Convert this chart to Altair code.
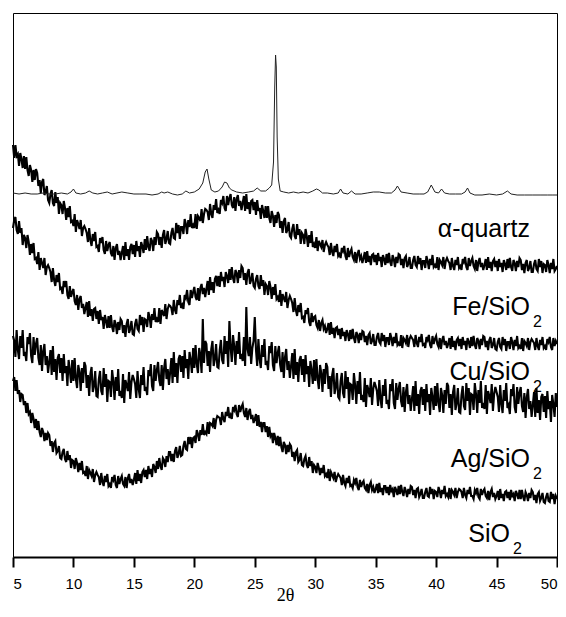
import altair as alt
import pandas as pd

# ---------------- data ----------------
# noisy patterns sampled every 0.1 deg from 5.0 to 50.0 (one row = 1 deg)
X_START = 5.0
X_STEP = 0.1

FE_SIO2 = [
412,399,412,401,403,391,404,398,389,401,
388,400,387,381,392,387,375,387,377,388,
384,371,377,364,375,378,362,365,371,357,
354,363,367,354,351,365,354,360,343,354,
352,343,356,349,337,349,340,351,335,336,
331,343,325,337,333,328,337,321,329,331,
328,324,315,329,317,311,323,316,325,310,
311,305,319,314,320,307,303,316,306,312,
315,304,301,311,297,309,313,302,306,297,
304,311,297,315,301,308,297,310,313,303,
312,300,316,306,311,300,315,311,304,318,
307,321,310,306,319,316,306,320,312,325,
323,312,320,309,322,327,313,318,326,314,
313,324,329,319,318,334,324,332,318,330,
330,323,338,333,323,337,330,343,329,332,
329,343,328,341,339,336,348,334,343,348,
347,345,337,353,343,339,352,347,358,344,
347,343,357,354,361,349,346,361,352,359,
363,352,349,360,346,358,362,351,356,347,
354,361,346,363,348,355,343,356,357,347,
355,342,357,346,349,338,352,346,339,351,
339,351,339,334,346,341,330,342,334,345,
342,329,336,324,336,339,324,327,335,321,
319,328,333,321,318,333,322,328,313,324,
322,313,328,321,310,322,314,326,310,313,
309,320,306,316,313,310,317,305,312,315,
312,310,302,314,305,301,311,305,313,301,
303,299,309,306,311,301,297,309,300,305,
308,300,297,305,294,303,307,298,301,294,
299,305,294,306,295,301,292,302,303,295,
302,292,304,296,300,290,302,298,292,303,
294,304,295,291,302,298,290,300,294,303,
302,292,298,289,299,301,290,293,300,289,
289,297,301,292,290,301,293,299,287,296,
296,289,301,296,288,298,292,302,290,292,
289,300,287,297,295,292,300,288,296,299,
296,294,287,299,291,287,297,292,300,289,
291,287,298,295,300,290,287,299,291,296,
299,291,288,297,286,295,299,290,294,287,
292,298,287,300,289,295,286,296,298,290,
296,286,298,290,294,285,297,293,287,298,
289,299,290,286,297,294,286,296,290,299,
297,287,293,284,294,297,286,289,296,285,
285,293,297,288,286,298,290,296,284,293,
292,285,297,292,284,294,288,298,286,288,
291]

CU_SIO2 = [
329,337,340,327,323,336,324,329,312,322,
319,309,322,315,302,313,304,314,298,299,
293,305,287,299,294,289,299,282,290,292,
289,285,275,289,277,271,282,275,284,268,
269,263,276,270,276,262,258,271,260,265,
268,256,252,262,247,258,261,249,253,243,
249,255,240,256,241,248,236,248,249,238,
246,233,247,237,240,228,242,236,229,241,
229,242,230,225,237,233,223,235,227,238,
236,224,232,220,233,238,224,228,236,223,
222,233,238,228,226,242,232,240,225,238,
237,230,245,240,229,243,237,249,235,238,
235,249,233,247,244,241,253,238,248,252,
251,249,242,257,247,243,257,252,262,249,
252,248,262,259,267,255,252,267,259,265,
270,260,257,269,256,269,273,263,269,260,
268,276,262,280,267,275,264,278,281,271,
281,270,285,276,280,270,285,281,274,288,
277,290,279,274,287,284,274,287,279,291,
289,277,284,272,284,288,273,277,284,271,
269,278,282,271,268,282,271,277,262,273,
271,262,276,270,258,270,262,273,258,260,
255,267,251,263,259,255,265,249,257,261,
258,254,245,259,247,241,252,245,254,239,
240,234,247,243,249,235,231,244,235,240,
241,232,229,237,226,234,237,228,231,224,
228,234,222,235,223,229,219,229,230,222,
228,218,229,221,225,216,227,223,216,227,
218,228,219,214,225,222,214,224,217,226,
225,215,221,212,222,224,213,216,223,212,
212,220,224,215,213,224,216,222,210,219,
219,212,224,219,211,220,214,224,212,214,
211,222,209,219,217,214,222,210,218,221,
219,217,210,222,214,210,220,215,223,212,
213,209,220,217,222,212,209,221,213,218,
221,213,210,219,208,217,221,212,216,209,
213,219,208,221,210,216,207,217,219,211,
218,208,220,212,216,207,219,215,209,220,
211,221,212,208,219,216,208,218,212,221,
220,210,216,207,217,220,209,212,219,208,
207,215,219,210,208,220,212,218,206,215,
215,208,220,215,207,217,211,221,209,211,
208,219,206,216,214,211,219,207,215,218,
216,214,207,219,211,207,217,212,220,209,
211,207,218,215,220,210,207,219,211,216,
213]

AG_SIO2 = [
221,216,200,227,207,198,221,209,227,201,
205,196,220,213,224,201,194,220,202,213,
219,199,192,212,186,206,213,192,201,184,
195,207,182,211,185,198,177,199,203,184,
199,176,203,184,191,171,197,187,174,197,
176,199,178,169,192,185,166,189,174,195,
191,169,182,161,183,190,165,171,186,161,
160,178,186,166,162,189,170,183,155,176,
175,160,187,176,157,180,166,188,161,166,
159,183,154,177,172,166,185,158,175,182,
178,173,159,186,168,159,182,172,190,166,
170,162,187,181,193,171,166,192,176,187,
195,177,171,192,167,189,198,178,188,172,
185,199,174,205,180,194,174,198,202,185,
201,179,207,189,198,178,205,197,184,209,
189,212,193,184,209,202,184,238,194,216,
213,191,206,185,208,216,191,198,213,190,
189,207,217,197,193,221,203,216,190,236,
210,195,222,211,192,216,203,225,198,203,
196,220,191,250,208,201,220,193,209,216,
240,207,191,218,198,189,212,200,218,192,
196,187,211,204,215,192,186,211,194,204,
211,192,185,205,179,200,208,187,196,179,
191,204,178,208,182,195,175,197,201,182,
198,175,202,183,191,170,196,187,173,197,
176,198,178,168,192,184,165,188,173,194,
190,168,181,160,182,189,163,170,184,160,
158,176,184,164,159,186,168,180,153,173,
172,157,184,172,153,176,163,185,157,162,
155,179,150,172,167,160,179,152,168,175,
171,166,151,177,158,149,172,161,178,153,
157,148,173,166,178,154,148,174,157,168,
175,156,150,170,145,165,173,153,162,146,
158,171,146,176,151,163,143,166,170,152,
168,146,173,155,163,142,169,160,147,171,
151,174,154,145,169,162,144,167,153,174,
171,149,163,142,165,172,147,154,169,145,
144,162,171,151,147,174,156,169,142,163,
162,147,174,163,144,167,154,176,149,154,
148,172,143,166,161,154,173,146,163,170,
165,160,145,172,153,144,167,156,174,149,
152,143,168,161,173,150,144,170,153,164,
170,151,145,164,139,160,168,148,156,140,
152,165,140,169,144,157,137,160,163,145,
161,139,166,148,156,135,162,153,140,164,
150]

SIO2 = [
176,180,166,177,163,167,155,163,162,152,
156,144,154,143,145,134,144,138,129,138,
127,136,125,120,129,125,116,124,117,124,
122,111,116,105,114,116,104,106,111,99,
98,105,108,98,95,106,97,102,89,97,
96,88,99,94,85,94,87,96,84,85,
81,91,78,87,84,81,88,75,82,85,
82,80,72,84,75,71,81,75,83,71,
73,69,80,77,82,72,69,81,73,78,
81,73,71,80,69,79,83,74,78,72,
77,84,73,87,76,83,74,85,87,80,
87,78,91,83,88,80,93,90,84,96,
88,99,91,87,99,97,90,101,95,105,
105,96,103,95,106,110,99,103,111,101,
102,111,116,108,107,120,113,120,109,119,
120,114,127,123,116,127,122,133,122,125,
123,135,123,134,133,131,139,128,137,141,
140,139,132,145,138,135,145,141,150,139,
142,138,150,147,152,143,140,152,145,150,
153,144,140,149,137,145,148,138,142,134,
138,143,131,142,130,135,125,134,134,125,
131,120,130,121,124,114,124,119,112,121,
111,120,110,105,115,112,103,112,105,113,
111,100,105,96,105,107,95,97,104,92,
91,98,101,92,89,100,91,96,84,92,
90,84,94,89,82,89,84,92,81,83,
79,88,76,85,82,79,85,75,80,83,
81,79,72,82,74,71,79,74,81,71,
72,69,77,74,79,70,67,77,70,74,
76,69,67,73,64,72,75,67,70,64,
68,73,64,74,65,69,62,71,71,64,
70,62,72,66,68,60,70,67,62,71,
63,72,65,61,70,66,60,68,63,71,
70,62,67,59,68,69,60,63,68,59,
59,65,69,61,60,70,63,68,58,66,
65,60,70,66,59,67,63,71,61,63,
60,69,58,67,65,62,69,59,65,68,
67,65,59,69,62,59,67,63,70,61,
61,58,67,64,69,60,58,68,62,66,
68,61,59,66,57,65,68,60,64,58,
61,66,57,68,59,63,56,65,66,59,
65,57,67,61,63,56,66,63,58,67,
58,67,60,56,65,62,56,64,59,67,
65,57,62,54,63,65,56,59,64,55,
54,60,64,56,55,65,58,63,53,61,
58]

QUARTZ_X = [
5.0, 5.5, 6.0, 6.5, 7.0, 7.5, 8.0, 8.5, 9.0, 9.5, 9.8, 10.0, 10.2, 10.6, 11.0,
11.3, 11.6, 12.0, 12.4, 12.8, 13.2, 13.6, 14.0, 14.5, 15.0, 15.5, 16.0, 16.5,
17.0, 17.3, 17.5, 17.8, 18.2, 18.6, 19.0, 19.3, 19.6, 20.0, 20.4, 20.7, 20.9,
21.05, 21.2, 21.4, 21.7, 22.0, 22.3, 22.5, 22.7, 22.9, 23.1, 23.5, 24.0, 24.5,
24.9, 25.2, 25.5, 25.9, 26.2, 26.4, 26.55, 26.65, 26.72, 26.78, 26.85, 26.95,
27.1, 27.4, 27.8, 28.2, 28.6, 29.0, 29.4, 29.8, 30.1, 30.3, 30.6, 31.0, 31.5,
31.9, 32.1, 32.3, 32.7, 33.0, 33.3, 33.8, 34.3, 34.8, 35.3, 35.8, 36.3, 36.6,
36.8, 37.1, 37.6, 38.1, 38.6, 39.0, 39.3, 39.6, 39.9, 40.2, 40.45, 40.7, 41.1,
41.6, 42.1, 42.4, 42.6, 42.8, 43.2, 43.8, 44.4, 45.0, 45.5, 45.9, 46.2, 46.7,
47.3, 48.0, 48.6, 49.2, 49.6, 50.0]
QUARTZ_Y = [
364, 363, 364, 363, 363, 364, 363, 363, 364, 363, 365, 368, 364, 363, 364,
366, 364, 363, 364, 365, 363, 364, 365, 364, 363, 363, 363, 362,
363, 365, 364, 365, 363, 362, 363, 366, 364, 365, 368, 374, 385,
388, 378, 367, 365, 366, 370, 375, 374, 369, 367, 365, 364, 365,
366, 369, 366, 366, 369, 372, 395, 470, 502, 490, 420, 378,
366, 365, 364, 365, 364, 365, 364, 366, 368, 367, 364, 364, 363,
364, 368, 364, 363, 366, 363, 363, 364, 365, 365, 364, 364, 367,
371, 365, 364, 363, 363, 363, 365, 372, 365, 364, 368, 364, 363,
363, 363, 365, 369, 364, 362, 362, 363, 362, 363, 366, 363, 362,
362, 362, 362, 362, 362, 362]

LABELS = ["\u03b1-quartz", "Fe/SiO", "Cu/SiO", "Ag/SiO", "SiO"]
SUBSCRIPTS = ["", "2", "2", "2", "2"]
LABEL_X = [47.77, 47.77, 47.77, 47.77, 46.11]
LABEL_Y = [320, 242, 177, 90, 15]

X_TICKS = [5, 7.5, 10, 12.5, 15, 17.5, 20, 22.5, 25, 27.5, 30, 32.5, 35, 37.5,
           40, 42.5, 45, 47.5, 50]

# ---------------- tables ----------------
n = len(FE_SIO2)
xs = [round(X_START + X_STEP * i, 1) for i in range(n)]
frames = []
for name, ys in [("Fe/SiO2", FE_SIO2), ("Cu/SiO2", CU_SIO2),
                 ("Ag/SiO2", AG_SIO2), ("SiO2", SIO2)]:
    assert len(ys) == n, (name, len(ys))
    frames.append(pd.DataFrame({"series": name, "x": xs, "y": ys}))
noisy = pd.concat(frames, ignore_index=True)
quartz = pd.DataFrame({"x": QUARTZ_X, "y": QUARTZ_Y})
labels = pd.DataFrame({"text": LABELS, "sub": SUBSCRIPTS, "x": LABEL_X, "y": LABEL_Y})

xscale = alt.Scale(domain=[5, 50], nice=False, zero=False)
yscale = alt.Scale(domain=[0, 544], nice=False, zero=False)

xaxis = alt.Axis(
    values=X_TICKS,
    labelExpr="datum.value % 5 === 0 ? datum.label : ''",
    tickSize={"condition": {"test": "datum.value % 5 === 0", "value": 10}, "value": 5},
    title="2\u03b8",
    titleY=43,
    titleBaseline="alphabetic",
    grid=False,
)

lines = alt.Chart(noisy).mark_line(color="black", strokeWidth=2.1).encode(
    x=alt.X("x:Q", scale=xscale, axis=xaxis),
    y=alt.Y("y:Q", scale=yscale, axis=None),
    detail="series:N",
)
qline = alt.Chart(quartz).mark_line(color="#222222", strokeWidth=1).encode(
    x=alt.X("x:Q", scale=xscale), y=alt.Y("y:Q", scale=yscale)
)
main_text = alt.Chart(labels).mark_text(
    align="right", baseline="alphabetic", font="Liberation Sans", fontSize=25, color="black"
).encode(x=alt.X("x:Q", scale=xscale), y=alt.Y("y:Q", scale=yscale), text="text:N")
sub_text = alt.Chart(labels).mark_text(
    align="left", baseline="alphabetic", font="Liberation Sans", fontSize=16, color="black",
    dx=3, dy=12
).encode(x=alt.X("x:Q", scale=xscale), y=alt.Y("y:Q", scale=yscale), text="sub:N")

chart = alt.layer(lines, qline, main_text, sub_text).properties(
    width=544, height=544,
    autosize=alt.AutoSizeParams(type="none"),
    padding={"left": 5, "top": 5, "right": 1, "bottom": 46},
).configure_view(
    stroke="black", strokeWidth=1
).configure_axis(
    domainColor="black", domainWidth=2, tickColor="black", tickWidth=2,
    labelFont="Liberation Sans", labelFontSize=15, labelColor="black", labelPadding=9,
    titleFont="Liberation Serif", titleFontSize=18, titleFontWeight="normal",
    titleColor="black",
)

chart.save("out.html", embed_options={"renderer": "svg", "actions": False})
